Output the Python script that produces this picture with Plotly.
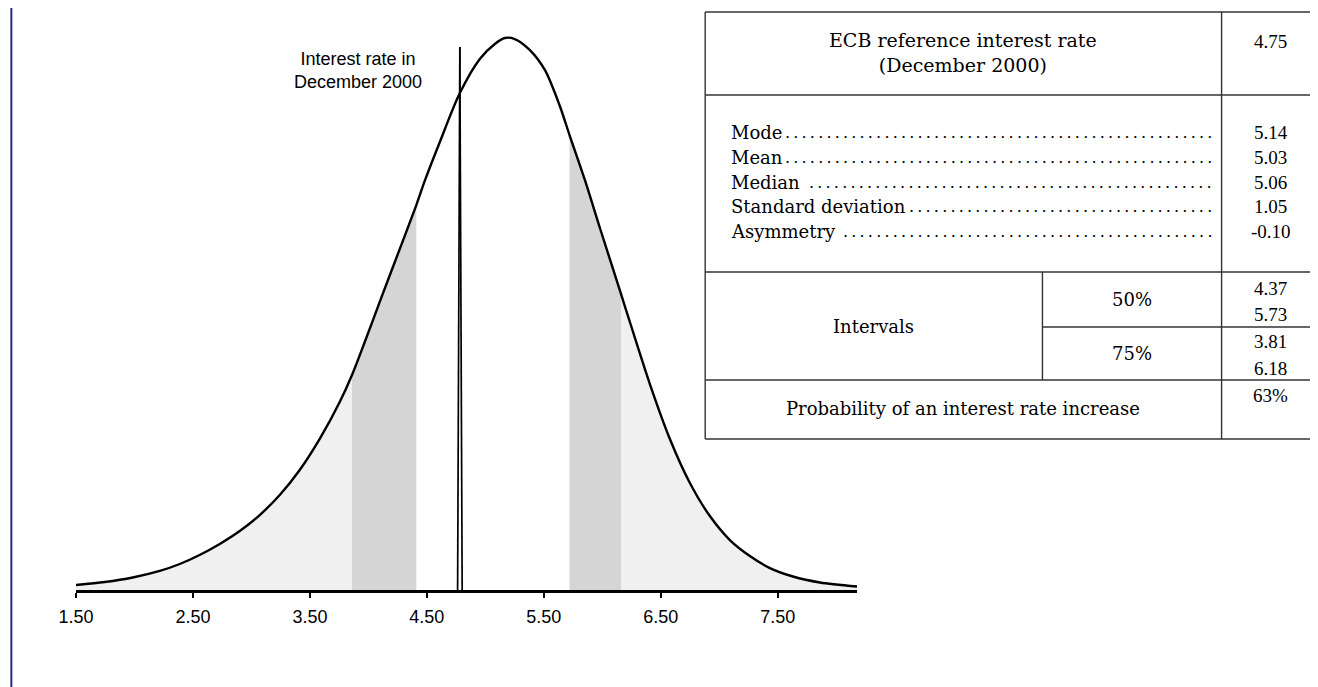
import plotly.graph_objects as go
import numpy as np

# ---------------- data ----------------
rate = [1.50, 1.746, 1.985, 2.216, 2.387, 2.557, 2.729, 2.900, 3.071, 3.242,
        3.413, 3.584, 3.755, 3.86, 3.969, 4.097, 4.226, 4.41, 4.482, 4.611,
        4.782, 4.953, 5.081, 5.167, 5.252, 5.381, 5.509, 5.637, 5.72, 5.851,
        5.980, 6.16, 6.236, 6.407, 6.578, 6.749, 6.920, 7.091, 7.262, 7.433,
        7.630, 7.861, 8.178]
density = [0.0034, 0.0055, 0.0086, 0.0131, 0.0179, 0.0241, 0.0317, 0.0406, 0.0516, 0.0654,
           0.0826, 0.1040, 0.1294, 0.1480, 0.1707, 0.1983, 0.2258, 0.2650, 0.2816, 0.3084,
           0.3421, 0.3656, 0.3759, 0.3800, 0.3793, 0.3717, 0.3580, 0.3332, 0.3132, 0.2823,
           0.2492, 0.2038, 0.1845, 0.1418, 0.1040, 0.0737, 0.0509, 0.0344, 0.0234, 0.0151,
           0.0093, 0.0052, 0.0024]

band_75 = [3.86, 6.16]
band_50 = [4.41, 5.72]

ref_rate_bottom = [4.763, 4.802]
ref_rate_top = 4.782
ref_rate_height = 0.3738

tick_vals = [1.5, 2.5, 3.5, 4.5, 5.5, 6.5, 7.5]
tick_text = ["1.50", "2.50", "3.50", "4.50", "5.50", "6.50", "7.50"]

header_label = "ECB reference interest rate<br>(December 2000)"
header_value = "4.75"
stat_labels = ["Mode", "Mean", "Median", "Standard deviation", "Asymmetry"]
stat_values = ["5.14", "5.03", "5.06", "1.05", "-0.10"]
interval_names = ["50%", "75%"]
interval_values = [["4.37", "5.73"], ["3.81", "6.18"]]
prob_label = "Probability of an interest rate increase"
prob_value = "63%"

# ---------------- layout geometry (page pixels; page has an 8px body margin) ----------------
OFF = 8
W, H = 1318 - OFF, 687 - OFF
PL, PR, PT, PB = 76.3, 856.7, 20, 590      # plot area in page pixels
YMAX = (PB - PT) / 1452.6


def pxx(x):
    return (x - PL) / (PR - PL)


def pxy(y):
    return (PB - y) / (PB - PT)


x = np.array(rate)
y = np.array(density)


def seg(lo, hi):
    m = (x >= lo - 1e-9) & (x <= hi + 1e-9)
    return x[m], y[m]


LIGHT = "#f0f0f0"
MID = "#d5d5d5"

fig = go.Figure()
for (lo, hi), col in [((x.min(), band_75[0]), LIGHT), ((band_75[0], band_50[0]), MID),
                      ((band_50[1], band_75[1]), MID), ((band_75[1], x.max()), LIGHT)]:
    sx, sy = seg(lo, hi)
    fig.add_trace(go.Scatter(x=sx, y=sy, mode="lines", fill="tozeroy", fillcolor=col,
                             line=dict(width=0, color=col, shape="spline", smoothing=0.8),
                             hoverinfo="skip", showlegend=False))

fig.add_trace(go.Scatter(x=rate, y=density, mode="lines",
                         line=dict(color="black", width=2.4, shape="spline", smoothing=0.8),
                         showlegend=False))

for xb in ref_rate_bottom:
    fig.add_trace(go.Scatter(x=[xb, ref_rate_top], y=[0, ref_rate_height], mode="lines",
                             line=dict(color="black", width=1.7), showlegend=False))

SANS = "Liberation Sans, Arial, sans-serif"
SERIF = "DejaVu Serif, serif"
SERIF_NUM = "Liberation Serif, serif"

annotations = [
    dict(x=pxx(358), y=pxy(70), xref="paper", yref="paper", text="Interest rate in<br>December 2000",
         showarrow=False, font=dict(family=SANS, size=18, color="black"), align="center",
         xanchor="center", yanchor="middle"),
]

shapes = []
LC = "#333333"


def hline(y0, x0, x1):
    shapes.append(dict(type="line", xref="paper", yref="paper", x0=pxx(x0), x1=pxx(x1),
                       y0=pxy(y0), y1=pxy(y0), line=dict(color=LC, width=1.4)))


def vline(xp, y0, y1, color=LC, width=1.4):
    shapes.append(dict(type="line", xref="paper", yref="paper", x0=pxx(xp), x1=pxx(xp),
                       y0=pxy(y0), y1=pxy(y1), line=dict(color=color, width=width)))


TL, TR, TDIV, TSUB = 705, 1320, 1221, 1042
T_TOP, T_H1, T_H2, T_MID, T_PROB, T_BOT = 12, 95, 272, 327, 380, 439
for yy in [T_TOP, T_H1, T_H2, T_PROB, T_BOT]:
    hline(yy, TL, TR)
hline(T_MID, TSUB, TR)
vline(TL, T_TOP, T_BOT)
vline(TDIV, T_TOP, T_BOT)
vline(TSUB, T_H2, T_PROB)

# left page border
vline(11.7, -5, H + OFF + 5, color="#2c2a80", width=2)


def txt(xp, yp, s, xanchor="center", size=18, family=SERIF):
    annotations.append(dict(x=pxx(xp), y=pxy(yp), xref="paper", yref="paper", text=s, showarrow=False,
                            font=dict(family=family, size=size, color="black"), xanchor=xanchor,
                            yanchor="middle", align="center"))


def val(xp, yp, s):
    txt(xp, yp, s, size=19, family=SERIF_NUM)


VAL_X = 1270
txt((TL + TDIV) / 2, 53, header_label, size=19)
val(VAL_X, 41, header_value)

row_y = [133, 157.5, 182, 206.5, 231]
dot_counts = [52, 52, 49, 37, 45]
for lab, v, ry, n in zip(stat_labels, stat_values, row_y, dot_counts):
    txt(729, ry, lab, xanchor="left")
    txt(1213, ry, "\u2009".join(["."] * n), xanchor="right", size=16)
    val(VAL_X, ry, v)

txt((TL + TSUB) / 2, (T_H2 + T_PROB) / 2, "Intervals")
txt((TSUB + TDIV) / 2, (T_H2 + T_MID) / 2, interval_names[0])
txt((TSUB + TDIV) / 2, (T_MID + T_PROB) / 2, interval_names[1])
val(VAL_X, 288, interval_values[0][0])
val(VAL_X, 314, interval_values[0][1])
val(VAL_X, 341, interval_values[1][0])
val(VAL_X, 368, interval_values[1][1])
txt((TL + TDIV) / 2, 408, prob_label)
val(VAL_X, 395, prob_value)

fig.update_layout(
    width=W, height=H,
    margin=dict(l=PL - OFF, r=1318 - PR, t=PT - OFF, b=687 - PB, pad=0),
    paper_bgcolor="white", plot_bgcolor="white",
    showlegend=False,
    xaxis=dict(range=[1.5, 8.178], tickvals=tick_vals, ticktext=tick_text, showgrid=False,
               zeroline=False, showline=True, linecolor="black", linewidth=2.6,
               ticks="outside", ticklen=5, tickwidth=2, tickcolor="black", ticklabelstandoff=4,
               tickfont=dict(family=SANS, size=18, color="black")),
    yaxis=dict(range=[0, YMAX], visible=False, showgrid=False, zeroline=False),
    annotations=annotations,
    shapes=shapes,
)

fig.write_html("out.html")
